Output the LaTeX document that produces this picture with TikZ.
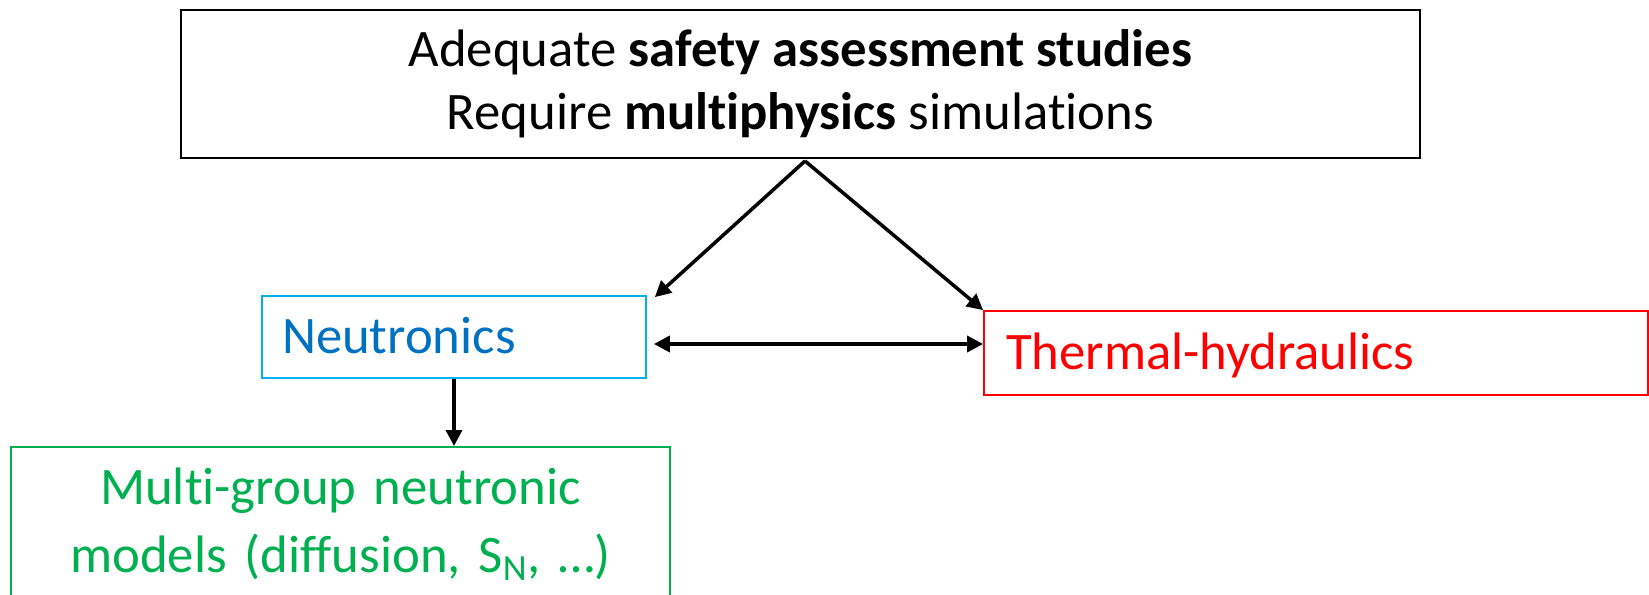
\documentclass[tikz,border=0pt]{standalone}
\usepackage{fontspec}
\setmainfont{Carlito}[Ligatures=NoCommon]
\usetikzlibrary{arrows.meta,positioning,calc}
\definecolor{neutext}{RGB}{0,112,192}
\definecolor{neuframe}{RGB}{0,176,240}
\definecolor{threc}{RGB}{255,0,0}
\definecolor{modgreen}{RGB}{0,176,80}

\begin{document}
\begin{tikzpicture}[
    claimbox/.style={draw=black,line width=1pt,minimum width=24.78cm,minimum height=2.96cm,align=center,font=\fontsize{30}{36}\selectfont},
    physbox/.style={draw,line width=1pt,inner ysep=0pt,align=left,text height=19pt,text depth=0pt,font=\fontsize{30}{36}\selectfont},
    modelbox/.style={draw=modgreen,line width=1pt,text=modgreen,align=center,inner xsep=0.2cm,inner ysep=0.42cm,text width=12.78cm,font=\fontsize{30}{38.5}\selectfont},
    link/.style={-{Triangle[length=0.32cm,width=0.32cm]},line width=2pt},
    coupling/.style={{Triangle[length=0.32cm,width=0.32cm]}-{Triangle[length=0.32cm,width=0.32cm]},line width=2pt}
  ]
    \clip (0,0) rectangle (32.98,11.88);

    % Main statement
    \node[claimbox] (claim) at (16.01,10.20) {Adequate \textbf{safety assessment studies}\\Require \textbf{multiphysics} simulations};
    \coordinate (apex) at (16.10,8.66);

    % Physics boxes
    \node[physbox,draw=neuframe,text=neutext,minimum height=1.64cm,inner xsep=0.4cm,text width=6.88cm] (neu) at (9.08,5.14) {Neutronics};
    \node[physbox,draw=threc,text=threc,minimum height=1.68cm,inner xsep=0.44cm,text width=12.40cm] (th) at (26.32,4.82) {Thermal-hydraulics};

    % Neutronic models
    \node[modelbox,anchor=north] (models) at (6.81,2.96) {Multi-group neutronic\\models (diffusion, S\textsubscript{N}, …)};

    % Connections
    \draw[link] (apex) -- ($(neu.north east)+(0.16,-0.04)$);
    \draw[link] (apex) -- (th.north west);
    \draw[coupling] ($(neu.east)+(0.14,-0.14)$) -- ($(neu.east -| th.west)+(0,-0.14)$);
    \draw[link] (neu.south) -- (neu.south |- models.north);
  \end{tikzpicture}
\end{document}
